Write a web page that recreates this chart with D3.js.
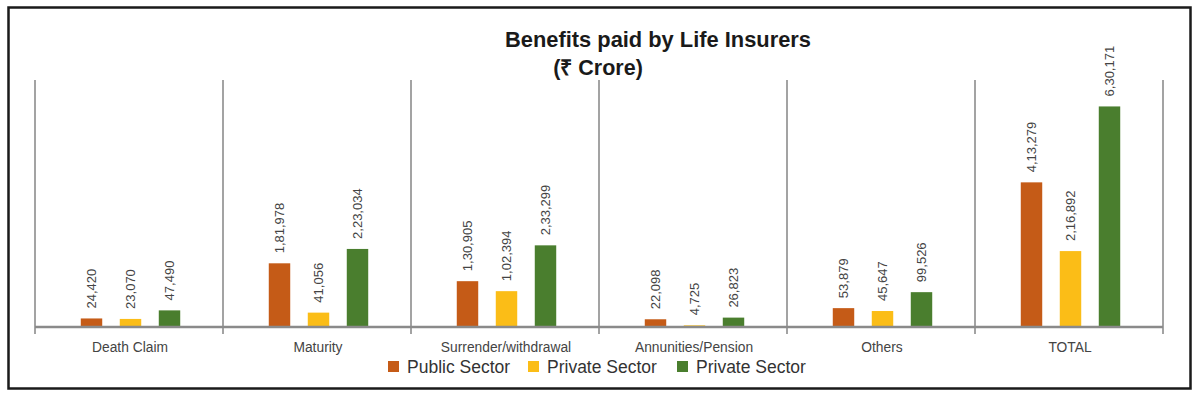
<!DOCTYPE html>
<html>
<head>
<meta charset="utf-8">
<script src="https://cdn.jsdelivr.net/npm/d3@7"></script>
<style>
  body { margin: 0; background: #fff; }
  svg { display: block; font-family: "Liberation Sans", Arial, sans-serif; }
</style>
</head>
<body>
<svg id="chart" width="1200" height="398"></svg>
<script>
// categories and values (₹ Crore)
const categories = ["Death Claim", "Maturity", "Surrender/withdrawal", "Annunities/Pension", "Others", "TOTAL"];
const seriesNames = ["Public Sector", "Private Sector", "Private Sector "];
const publicSector = [24420, 181978, 130905, 22098, 53879, 413279];
const privateSector = [23070, 41056, 102394, 4725, 45647, 216892];
const privateSector2 = [47490, 223034, 233299, 26823, 99526, 630171];
const valueLabels = [
  ["24,420", "1,81,978", "1,30,905", "22,098", "53,879", "4,13,279"],
  ["23,070", "41,056", "1,02,394", "4,725", "45,647", "2,16,892"],
  ["47,490", "2,23,034", "2,33,299", "26,823", "99,526", "6,30,171"]
];
const colors = ["#c55b17", "#fbbd17", "#4a7e2e"];

const svg = d3.select("#chart");

// outer frame
svg.append("rect")
  .attr("x", 8.5).attr("y", 7.5)
  .attr("width", 1182).attr("height", 381)
  .attr("fill", "none").attr("stroke", "#1a1a1a").attr("stroke-width", 2.5);

// title
svg.append("text")
  .attr("x", 658).attr("y", 47)
  .attr("text-anchor", "middle")
  .attr("font-size", 21.5).attr("font-weight", "bold").attr("fill", "#1a1a1a")
  .attr("textLength", 306).attr("lengthAdjust", "spacingAndGlyphs")
  .text("Benefits paid by Life Insurers");
svg.append("text")
  .attr("x", 598).attr("y", 75)
  .attr("text-anchor", "middle")
  .attr("font-size", 21.5).attr("font-weight", "bold").attr("fill", "#1a1a1a")
  .text("(₹  Crore)");

const x0 = d3.scaleBand()
  .domain(categories)
  .range([35, 1163]);

const x1 = d3.scaleBand()
  .domain(seriesNames)
  .range([-57, 60])
  .paddingInner(0.45)
  .paddingOuter(0.225);

const y = d3.scaleLinear()
  .domain([0, 700000])
  .range([327, 82]);

// separators between categories
const bounds = categories.map(c => x0(c)).concat([x0.range()[1]]);
svg.append("g").selectAll("line")
  .data(bounds)
  .enter().append("line")
    .attr("x1", d => d).attr("x2", d => d)
    .attr("y1", 80).attr("y2", 334)
    .attr("stroke", "#a3a3a3").attr("stroke-width", 2);

// bars
const rows = [publicSector, privateSector, privateSector2];
const bars = [];
rows.forEach((vals, s) => {
  vals.forEach((v, i) => bars.push({cat: categories[i], s: s, v: v, label: valueLabels[s][i]}));
});

const g = svg.append("g");
g.selectAll("rect")
  .data(bars)
  .enter().append("rect")
    .attr("x", d => x0(d.cat) + x0.bandwidth() / 2 + x1(seriesNames[d.s]))
    .attr("y", d => y(d.v))
    .attr("width", x1.bandwidth())
    .attr("height", d => y(0) - y(d.v))
    .attr("fill", d => colors[d.s]);

// rotated value labels
g.selectAll("text")
  .data(bars)
  .enter().append("text")
    .attr("transform", d => {
      const cx = x0(d.cat) + x0.bandwidth() / 2 + x1(seriesNames[d.s]) + x1.bandwidth() / 2;
      return "translate(" + (cx + 4.5) + "," + (y(d.v) - 10) + ") rotate(-90)";
    })
    .attr("font-size", 13).attr("fill", "#444")
    .text(d => d.label);

// baseline
svg.append("line")
  .attr("x1", 35).attr("x2", 1163)
  .attr("y1", 327).attr("y2", 327)
  .attr("stroke", "#8a8a8a").attr("stroke-width", 2.5);

// category labels
svg.append("g").selectAll("text")
  .data(categories)
  .enter().append("text")
    .attr("x", d => x0(d) + x0.bandwidth() / 2 + 1)
    .attr("y", 352)
    .attr("text-anchor", "middle")
    .attr("font-size", 13.8).attr("fill", "#444")
    .text(d => d);

// legend
const legendX = [388, 528, 677];
const legend = svg.append("g").selectAll("g")
  .data(seriesNames)
  .enter().append("g")
    .attr("transform", (d, i) => "translate(" + legendX[i] + ",361)");
legend.append("rect")
  .attr("width", 11).attr("height", 11)
  .attr("fill", (d, i) => colors[i]);
legend.append("text")
  .attr("x", 19).attr("y", 11.5)
  .attr("font-size", 17.5).attr("fill", "#333")
  .text(d => d.trim());
</script>
</body>
</html>
